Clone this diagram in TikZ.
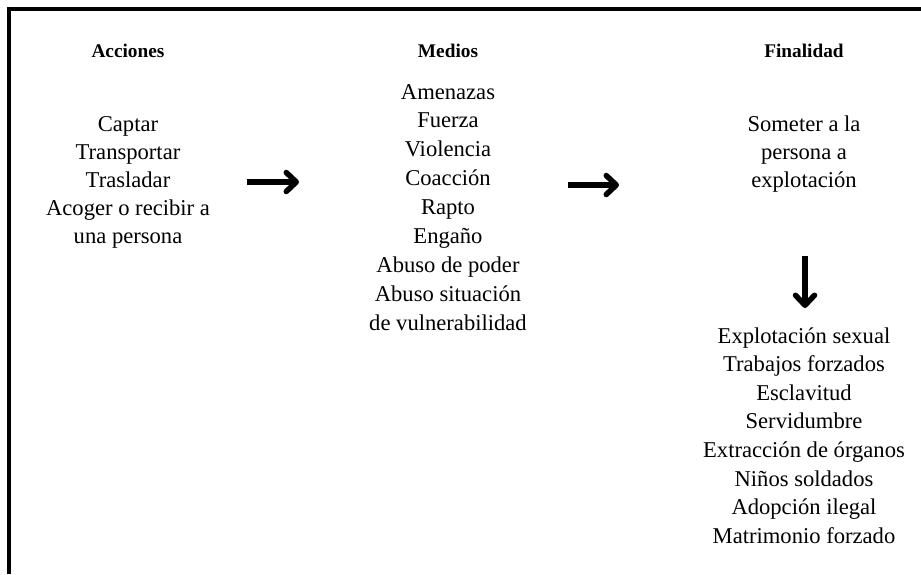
\documentclass[tikz,border=0pt]{standalone}
\usepackage{fontspec}
\setmainfont{Liberation Serif}
\usetikzlibrary{arrows.meta}
\begin{document}
\begin{tikzpicture}[x=1pt, y=-1pt,
  head/.style={anchor=base, inner sep=0pt, font=\fontsize{19.3}{24}\selectfont\bfseries},
  item/.style={anchor=base, inner sep=0pt, font=\fontsize{22.6}{28}\selectfont},
  arr/.style={line width=5.5pt, -{Straight Barb[length=10pt, width=19pt, line cap=round, line join=round]}}]
  \useasboundingbox (0,0) rectangle (921,574);
  % frame, only top and left
  \draw[line width=3.5pt] (9,574) -- (9,9) -- (921,9);
  % headings
  \node[head] (acc) at (128,57) {Acciones};
  \node[head] (med) at (448,57) {Medios};
  \node[head] (fin) at (804,57) {Finalidad};
  % columns
  \foreach \t [count=\i] in {Captar, Transportar, Trasladar, Acoger o recibir a, una persona}
    \node[item] (acc\i) at (128,{131+28.1*(\i-1)}) {\t};
  \foreach \t [count=\i] in {Amenazas, Fuerza, Violencia, Coacción, Rapto, Engaño, Abuso de poder, Abuso situación, de vulnerabilidad}
    \node[item] (med\i) at (448,{99+28.9*(\i-1)}) {\t};
  \foreach \t [count=\i] in {Someter a la, persona a, explotación}
    \node[item] (fin\i) at (804,{131+28.1*(\i-1)}) {\t};
  \foreach \t [count=\i] in {Explotación sexual, Trabajos forzados, Esclavitud, Servidumbre, Extracción de órganos, Niños soldados, Adopción ilegal, Matrimonio forzado}
    \node[item] (fo\i) at (804,{343+28.6*(\i-1)}) {\t};
  % arrows
  \coordinate (a1) at (247,182);
  \coordinate (b1) at (299,182);
  \coordinate (a2) at (568,185);
  \coordinate (b2) at (619,185);
  \coordinate (a3) at (805,256);
  \coordinate (b3) at (805,308);
  \draw[arr] (a1) -- (b1);
  \draw[arr] (a2) -- (b2);
  \draw[arr] (a3) -- (b3);
\end{tikzpicture}
\end{document}
